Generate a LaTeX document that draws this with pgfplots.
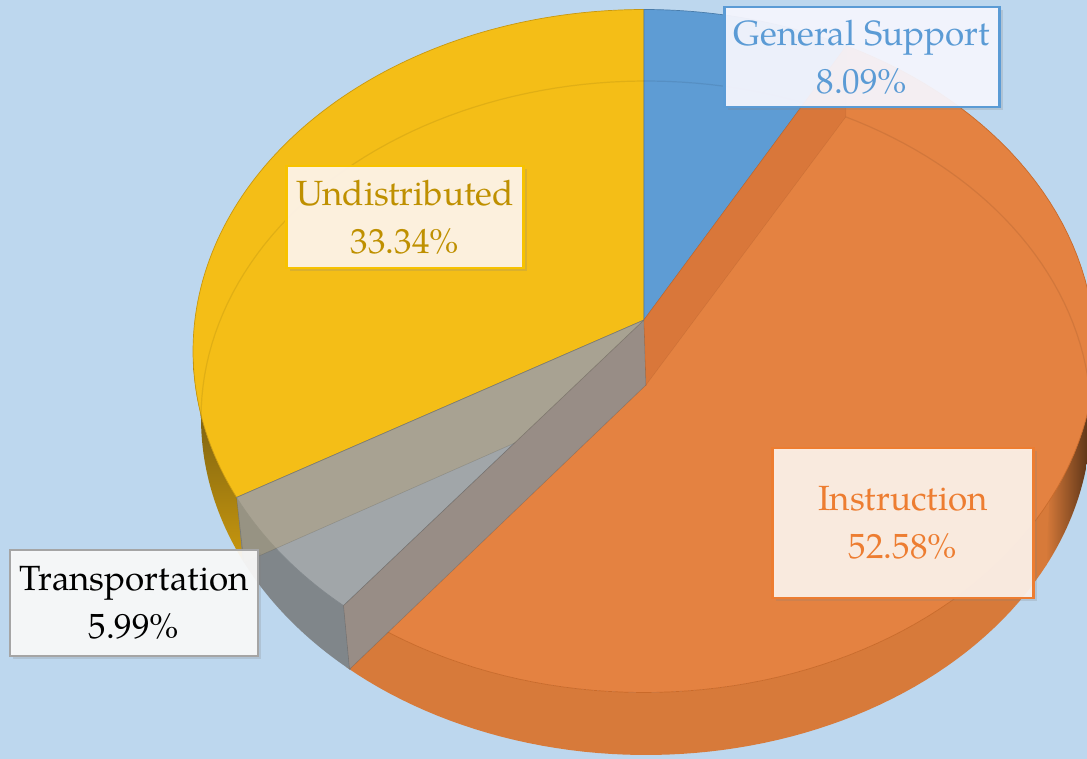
\documentclass[border=0pt]{standalone}
\usepackage{pgfplots}
\pgfplotsset{compat=1.18}
\usepackage{pgfplotstable}
\usepackage{fontspec}
\setmainfont{TeX Gyre Pagella}
\usetikzlibrary{shadows}

\definecolor{bg}{HTML}{BDD7EE}
\definecolor{cYel}{HTML}{F4BE17}
\definecolor{cBlu}{HTML}{5E9CD4}
\definecolor{cOra}{HTML}{E48241}
\definecolor{cGry}{HTML}{A1A6A9}
\definecolor{cTanW}{HTML}{AFA07D}
\definecolor{cGB}{HTML}{988D86}
\definecolor{cDO}{HTML}{D9773A}
\definecolor{sOra}{HTML}{D77A3A}
\definecolor{sOraD}{HTML}{4A2A12}
\definecolor{sYel}{HTML}{C9980E}
\definecolor{sYelD}{HTML}{5E4C12}
\definecolor{sGry}{HTML}{80868A}
\definecolor{tBlu}{HTML}{5B9BD5}
\definecolor{tYel}{HTML}{BF9000}
\definecolor{tOra}{HTML}{ED7D31}
\definecolor{bYel}{HTML}{F7C200}
\definecolor{bGry}{HTML}{A5A5A5}

\tikzset{lbl/.style={font=\fontsize{35bp}{48bp}\selectfont, align=center, inner sep=0pt,
     line width=2.2bp, fill opacity=0.93, text opacity=1,
     drop shadow={opacity=0.22, shadow xshift=3bp, shadow yshift=-3bp}}}

\pgfplotstableread{
label value
GeneralSupport 8.09
Instruction 52.58
Transportation 5.99
Undistributed 33.34
}\piedata

\newcommand\sidewall[3]{%
\addplot[#1, draw=none, domain=0:2, samples=121]
 ({ifthenelse(x<=1, xt((#2)+((#3)-(#2))*x), xb((#2)+((#3)-(#2))*(2-x)))},
  {ifthenelse(x<=1, yt((#2)+((#3)-(#2))*x), yb((#2)+((#3)-(#2))*(2-x)))}) -- cycle;}
\newcommand\topface[3]{%
\addplot[#1, domain=#2:#3, samples=100] ({xt(x)},{yt(x)}) -- (644,320) -- cycle;}

\begin{document}%
\begin{tikzpicture}
\pgfplotstablegetelem{0}{value}\of\piedata \let\vA\pgfplotsretval
\pgfplotstablegetelem{1}{value}\of\piedata \let\vB\pgfplotsretval
\pgfplotstablegetelem{2}{value}\of\piedata \let\vC\pgfplotsretval
\pgfplotstablegetelem{3}{value}\of\piedata \let\vD\pgfplotsretval
% disc angles (clockwise from top)
\pgfmathsetmacro\thB{90-3.6*\vA}
\pgfmathsetmacro\thC{\thB-3.6*\vB}
\pgfmathsetmacro\thD{\thC-3.6*\vC}
% perspective mapping to ellipse parameter
\pgfmathsetmacro\tB{atan2(sin(\thB)+0.091, 0.99585*cos(\thB))}
\pgfmathsetmacro\tC{atan2(sin(\thC)+0.091, 0.99585*cos(\thC))}
\pgfmathsetmacro\tD{atan2(sin(\thD)+0.091, 0.99585*cos(\thD))}
\pgfmathsetmacro\tCp{\tC+360}
\pgfmathsetmacro\tDp{\tD+360}
\pgfmathsetmacro\tCpa{\tCp-0.6}
\pgfmathsetmacro\tCpb{\tCp+0.6}
\pgfmathsetmacro\tDpa{\tDp-0.6}
\pgfmathsetmacro\tDpb{\tDp+0.6}
% rim points
\pgfmathsetmacro\xBt{644+451*cos(\tB)}\pgfmathsetmacro\yBt{351-341.5*sin(\tB)}
\pgfmathsetmacro\xBb{646+445*cos(\tB)}\pgfmathsetmacro\yBb{418-337*sin(\tB)}
\pgfmathsetmacro\xCt{644+451*cos(\tC)}\pgfmathsetmacro\yCt{351-341.5*sin(\tC)}
\pgfmathsetmacro\xCb{646+445*cos(\tC)}\pgfmathsetmacro\yCb{418-337*sin(\tC)}
\pgfmathsetmacro\xDt{644+451*cos(\tD)}\pgfmathsetmacro\yDt{351-341.5*sin(\tD)}
\pgfmathsetmacro\xDb{646+445*cos(\tD)}\pgfmathsetmacro\yDb{418-337*sin(\tD)}
\begin{axis}[
  scale only axis, width=1087bp, height=759bp,
  xmin=0, xmax=1087, ymin=0, ymax=759, y dir=reverse,
  hide axis, clip=true,
  declare function={
    xt(\t)=644+451*cos(\t);
    yt(\t)=351-341.5*sin(\t);
    xb(\t)=646+445*cos(\t);
    yb(\t)=418-337*sin(\t);
  },
]
% background
\addplot[fill=bg, draw=none] coordinates {(0,0) (1087,0) (1087,759) (0,759)} -- cycle;
\coordinate (BL) at (0,759);
\coordinate (TR) at (1087,0);
% outer side walls (front half)
\sidewall{fill=sOra}{\tCpa}{336}
\sidewall{left color=sOra, right color=sOraD}{334}{360}
\sidewall{fill=sGry}{\tDpa}{\tCpb}
\sidewall{left color=sYelD, right color=sYel, shading angle=0}{180}{\tDp}
% top faces
\topface{fill=cYel, draw=sYel, line width=0.7bp}{90}{\tDp}
\topface{fill=cBlu, draw=tBlu!80!black, line width=0.7bp}{\tB}{90}
\topface{fill=cOra, draw=tOra!85!black, line width=0.7bp}{\tC}{\tB}
\topface{fill=cGry, draw=sGry, line width=0.7bp}{\tD}{\tC}
% far bottom rim seen through the translucent faces
\addplot[draw=black, draw opacity=0.08, line width=1.2bp, domain=0:180, samples=100] ({xb(x)},{yb(x)});
% inner radial walls seen through the faces
\addplot[fill=cTanW, fill opacity=0.5, draw=black, draw opacity=0.12, line width=0.6bp]
  coordinates {(644,320) (\xDt,\yDt) (\xDb,\yDb) (646,385)} -- cycle;
\addplot[fill=cGB, draw=black, draw opacity=0.15, line width=0.6bp]
  coordinates {(644,320) (\xCt,\yCt) (\xCb,\yCb) (646,385)} -- cycle;
\addplot[fill=cDO, draw=black, draw opacity=0.06, line width=0.6bp]
  coordinates {(644,320) (\xBt,\yBt) (\xBb,\yBb) (646,385)} -- cycle;
% labels
\node[lbl, draw=tBlu, fill=blue!3!white, text=tBlu, minimum width=275bp, minimum height=100bp] at (862,57)
  {General Support\\ \vA\%};
\node[lbl, draw=bYel, fill=orange!8!white, text=tYel, minimum width=237bp, minimum height=102bp] at (405,217)
  {Undistributed\\ \vD\%};
\node[lbl, draw=tOra, fill=tOra!10!white, text=tOra, minimum width=261bp, minimum height=150bp] at (903,523)
  {Instruction\\ \vB\%};
\node[lbl, draw=bGry, fill=gray!4!white, text=black, minimum width=248bp, minimum height=106bp] at (134,603)
  {Transportation\\ \vC\%};
\end{axis}
\pgfresetboundingbox
\useasboundingbox (BL) rectangle (TR);
\end{tikzpicture}%
\end{document}
